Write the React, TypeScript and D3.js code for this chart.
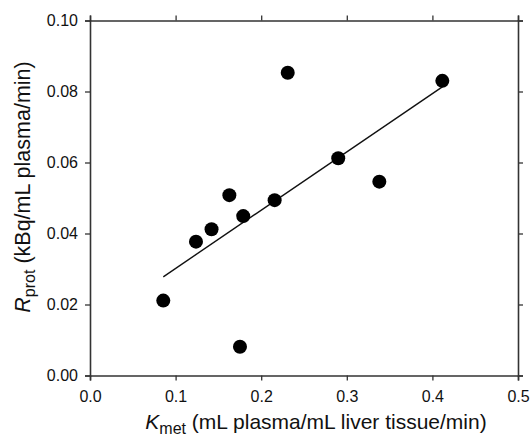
import React, {useEffect, useRef} from 'react';
import * as d3 from 'd3';

// K_met vs R_prot
const kMet = [0.0856, 0.1238, 0.142, 0.1628, 0.179, 0.1752, 0.2157, 0.231, 0.290, 0.338, 0.4116];
const rProt = [0.0211, 0.0377, 0.0412, 0.0508, 0.0449, 0.0081, 0.0494, 0.0853, 0.0612, 0.0546, 0.0830];

// regression line end points
const fitX = [0.0856, 0.4116];
const fitY = [0.0278, 0.0813];

const xTicks = [0, 0.1, 0.2, 0.3, 0.4, 0.5];
const yTicks = [0, 0.02, 0.04, 0.06, 0.08, 0.1];

const width = 531;
const height = 440;

const App = () => {
    const svgRef = useRef<SVGSVGElement>(null);

    useEffect(() => {
        const svg = d3.select(svgRef.current);
        svg.selectAll('*').remove();

        const margin = {top: 20.5, right: 13, bottom: 64.5, left: 90};
        const x = d3.scaleLinear().domain([0, 0.5]).range([margin.left, width - margin.right]);
        const y = d3.scaleLinear().domain([0, 0.1]).range([height - margin.bottom, margin.top]);

        const font = 'Arial, "Liberation Sans", sans-serif';
        const axisColor = '#333';

        // axes (ticks outward on every side)
        const bottom = svg.append('g')
            .attr('transform', `translate(0, ${y(0)})`)
            .call(d3.axisBottom(x).tickValues(xTicks).tickFormat(d3.format('.1f')).tickSizeOuter(0).tickSize(5).tickPadding(10));
        const left = svg.append('g')
            .attr('transform', `translate(${x(0)}, 0)`)
            .call(d3.axisLeft(y).tickValues(yTicks).tickFormat(d3.format('.2f')).tickSizeOuter(0).tickSize(5).tickPadding(7));
        const top = svg.append('g')
            .attr('transform', `translate(0, ${y(0.1)})`)
            .call(d3.axisTop(x).tickValues(xTicks).tickFormat(() => '').tickSizeOuter(0).tickSize(5));
        const right = svg.append('g')
            .attr('transform', `translate(${x(0.5)}, 0)`)
            .call(d3.axisRight(y).tickValues(yTicks).tickFormat(() => '').tickSizeOuter(0).tickSize(5));

        [bottom, left, top, right].forEach(g => {
            g.select('.domain').attr('stroke', axisColor).attr('stroke-width', 1.6);
            g.selectAll('.tick line').attr('stroke', axisColor).attr('stroke-width', 1.3);
            g.selectAll('.tick text').attr('fill', '#111').style('font-family', font).style('font-size', '16px');
        });

        // fit line
        svg.append('line')
            .attr('x1', x(fitX[0])).attr('y1', y(fitY[0]))
            .attr('x2', x(fitX[1])).attr('y2', y(fitY[1]))
            .attr('stroke', '#111')
            .attr('stroke-width', 1.4);

        // points
        svg.selectAll('circle.pt')
            .data(kMet)
            .enter()
            .append('circle')
            .attr('class', 'pt')
            .attr('cx', d => x(d))
            .attr('cy', (d, i) => y(rProt[i]))
            .attr('r', 7)
            .attr('fill', '#000');

        // x title
        const xt = svg.append('text')
            .attr('x', 316)
            .attr('y', 429)
            .attr('text-anchor', 'middle')
            .style('font-family', font)
            .style('font-size', '21px')
            .attr('fill', '#111');
        xt.append('tspan').text('K').style('font-style', 'italic');
        xt.append('tspan').text('met').attr('dy', 5).style('font-size', '16px');
        xt.append('tspan').text(' (mL plasma/mL liver tissue/min)').attr('dy', -5);

        // y title
        const yt = svg.append('text')
            .attr('transform', `translate(30, 187) rotate(-90)`)
            .attr('text-anchor', 'middle')
            .style('font-family', font)
            .style('font-size', '21.5px')
            .attr('fill', '#111');
        yt.append('tspan').text('R').style('font-style', 'italic');
        yt.append('tspan').text('prot').attr('dy', 5).style('font-size', '16px');
        yt.append('tspan').text(' (kBq/mL plasma/min)').attr('dy', -5);
    }, []);

    return (
        <svg ref={svgRef} width={width} height={height}
             style={{position: 'absolute', left: 0, top: 0, background: '#fff'}}></svg>
    );
};

export default App;
